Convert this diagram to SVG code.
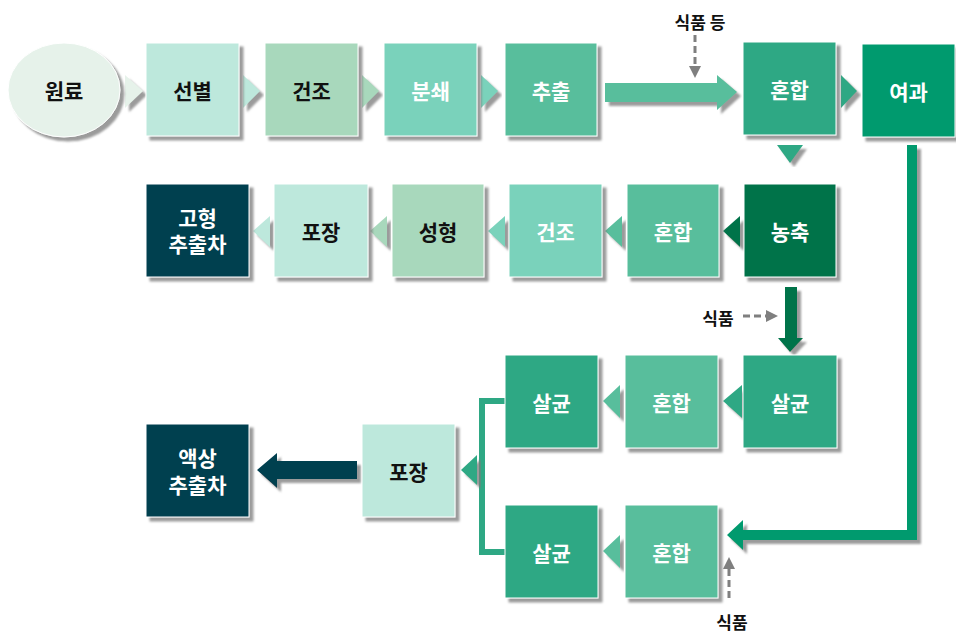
<svg xmlns="http://www.w3.org/2000/svg" width="956" height="635" viewBox="0 0 956 635">
<defs>
<filter id="sh" x="-10%" y="-10%" width="130%" height="130%">
<feDropShadow dx="4" dy="4" stdDeviation="1.2" flood-color="#7a7a7a" flood-opacity="0.75"/>
</filter>
<marker id="dh" viewBox="0 0 10 10" refX="5" refY="5" markerWidth="4" markerHeight="4" orient="auto">
<path d="M0,0 L10,5 L0,10 z" fill="#7f7f7f"/>
</marker>
</defs>
<style>
.box{stroke:#ffffff;stroke-width:1;filter:url(#sh)}
.t{font-family:"Noto Sans CJK KR","Noto Sans",sans-serif;font-weight:bold;font-size:21px;text-anchor:middle;dominant-baseline:central}
.w{fill:#ffffff}
.k{fill:#111111}
.lbl{font-family:"Noto Sans CJK KR","Noto Sans",sans-serif;font-weight:bold;font-size:17px;text-anchor:middle;dominant-baseline:central;fill:#111111}
.dash{stroke:#7f7f7f;stroke-width:3;stroke-dasharray:7,4;fill:none}
.c1{fill:#e6f2ea}.c2{fill:#bde8dc}.c3{fill:#a8d8bc}.c4{fill:#7ad2bb}.c5{fill:#58be9c}.c6{fill:#2ea884}.c7{fill:#009a6e}.c8{fill:#00734a}.c9{fill:#053f50}
.sh{filter:url(#sh)}
</style>

<g id="connectors">
<polygon class="c1 sh" points="125,75 143,91 125,108"/>
<polygon class="c2 sh" points="243,75 260,91 243,108"/>
<polygon class="c3 sh" points="362,75 379,91 362,108"/>
<polygon class="c4 sh" points="481,75 498,91 481,108"/>
<polygon class="c5 sh" points="605,83 717,83 717,75 737,92 717,110 717,102 605,102"/>
<polygon class="c6 sh" points="841,75 857,91 841,108"/>
<polygon class="c6 sh" points="777,145 803,145 790,163"/>
<polygon class="c8 sh" points="740,216 723,231 740,247"/>
<polygon class="c5 sh" points="622,216 605,231 622,247"/>
<polygon class="c4 sh" points="505,216 488,231 505,247"/>
<polygon class="c3 sh" points="387,216 370,231 387,247"/>
<polygon class="c2 sh" points="270,216 253,231 270,247"/>
<polygon class="c8 sh" points="785,287 797,287 797,338 803,338 790,352 778,338 785,338"/>
<polygon class="c6 sh" points="742,385 723,401 742,418"/>
<polygon class="c5 sh" points="620,385 603,401 620,418"/>
<polygon class="c5 sh" points="620,535 603,551 620,568"/>
<polygon class="c7 sh" points="907,145 917,145 917,540 743,540 743,550 727,535 743,520 743,530 907,530"/>
<path class="c6" d="M479,398 H505 V404 H485 V549 H505 V555 H479 Z"/>
<polygon class="c6 sh" points="477,455 461,470 477,485"/>
<polygon class="c9 sh" points="357,461 277,461 277,453 257,470 277,488 277,479 357,479"/>
<line class="dash" x1="695" y1="35" x2="695" y2="72" marker-end="url(#dh)"/>
<line class="dash" x1="743" y1="316" x2="772" y2="316" marker-end="url(#dh)"/>
<line class="dash" x1="729" y1="598" x2="729" y2="563" marker-end="url(#dh)"/>
</g>

<g id="labels">
<text class="lbl" x="700" y="21">식품 등</text>
<text class="lbl" x="718" y="317">식품</text>
<text class="lbl" x="732" y="621">식품</text>
</g>

<g id="n-wonryo"><ellipse class="c1 box" cx="64" cy="90" rx="56" ry="47"/><text class="t k" x="64" y="90">원료</text></g>
<g id="n-seonbyeol"><rect class="c2 box" x="146" y="43" width="93" height="93"/><text class="t k" x="192.5" y="89.5">선별</text></g>
<g id="n-geonjo1"><rect class="c3 box" x="265" y="43" width="93" height="93"/><text class="t k" x="311.5" y="89.5">건조</text></g>
<g id="n-bunswae"><rect class="c4 box" x="384" y="43" width="93" height="93"/><text class="t w" x="430.5" y="89.5">분쇄</text></g>
<g id="n-chuchul"><rect class="c5 box" x="505" y="43" width="92" height="93"/><text class="t w" x="551" y="89.5">추출</text></g>
<g id="n-honhap1"><rect class="c6 box" x="743" y="42" width="93" height="93"/><text class="t w" x="789.5" y="89">혼합</text></g>
<g id="n-yeogwa"><rect class="c7 box" x="862" y="44" width="93" height="93"/><text class="t w" x="908.5" y="91">여과</text></g>

<g id="n-nongchuk"><rect class="c8 box" x="744" y="184" width="92" height="93"/><text class="t w" x="790" y="231">농축</text></g>
<g id="n-honhap2"><rect class="c5 box" x="627" y="184" width="92" height="93"/><text class="t w" x="673" y="231">혼합</text></g>
<g id="n-geonjo2"><rect class="c4 box" x="509" y="184" width="93" height="93"/><text class="t w" x="555.5" y="231">건조</text></g>
<g id="n-seonghyeong"><rect class="c3 box" x="392" y="184" width="92" height="93"/><text class="t k" x="438" y="231">성형</text></g>
<g id="n-pojang1"><rect class="c2 box" x="274" y="184" width="94" height="93"/><text class="t k" x="321" y="231">포장</text></g>
<g id="n-gohyeong"><rect class="c9 box" x="146" y="184" width="103" height="93"/><text class="t w" x="197.5" y="217">고형<tspan x="197.5" dy="26">추출차</tspan></text></g>

<g id="n-salgyun1"><rect class="c6 box" x="743" y="355" width="94" height="93"/><text class="t w" x="790" y="402">살균</text></g>
<g id="n-honhap3"><rect class="c5 box" x="625" y="355" width="93" height="93"/><text class="t w" x="671.5" y="402">혼합</text></g>
<g id="n-salgyun2"><rect class="c6 box" x="505" y="355" width="93" height="93"/><text class="t w" x="551.5" y="402">살균</text></g>
<g id="n-salgyun3"><rect class="c6 box" x="505" y="505" width="93" height="93"/><text class="t w" x="551.5" y="552">살균</text></g>
<g id="n-honhap4"><rect class="c5 box" x="625" y="505" width="93" height="93"/><text class="t w" x="671.5" y="552">혼합</text></g>
<g id="n-pojang2"><rect class="c2 box" x="362" y="424" width="93" height="93"/><text class="t k" x="408.5" y="470.5">포장</text></g>
<g id="n-aeksang"><rect class="c9 box" x="146" y="424" width="103" height="93"/><text class="t w" x="197.5" y="457">액상<tspan x="197.5" dy="27">추출차</tspan></text></g>
</svg>
